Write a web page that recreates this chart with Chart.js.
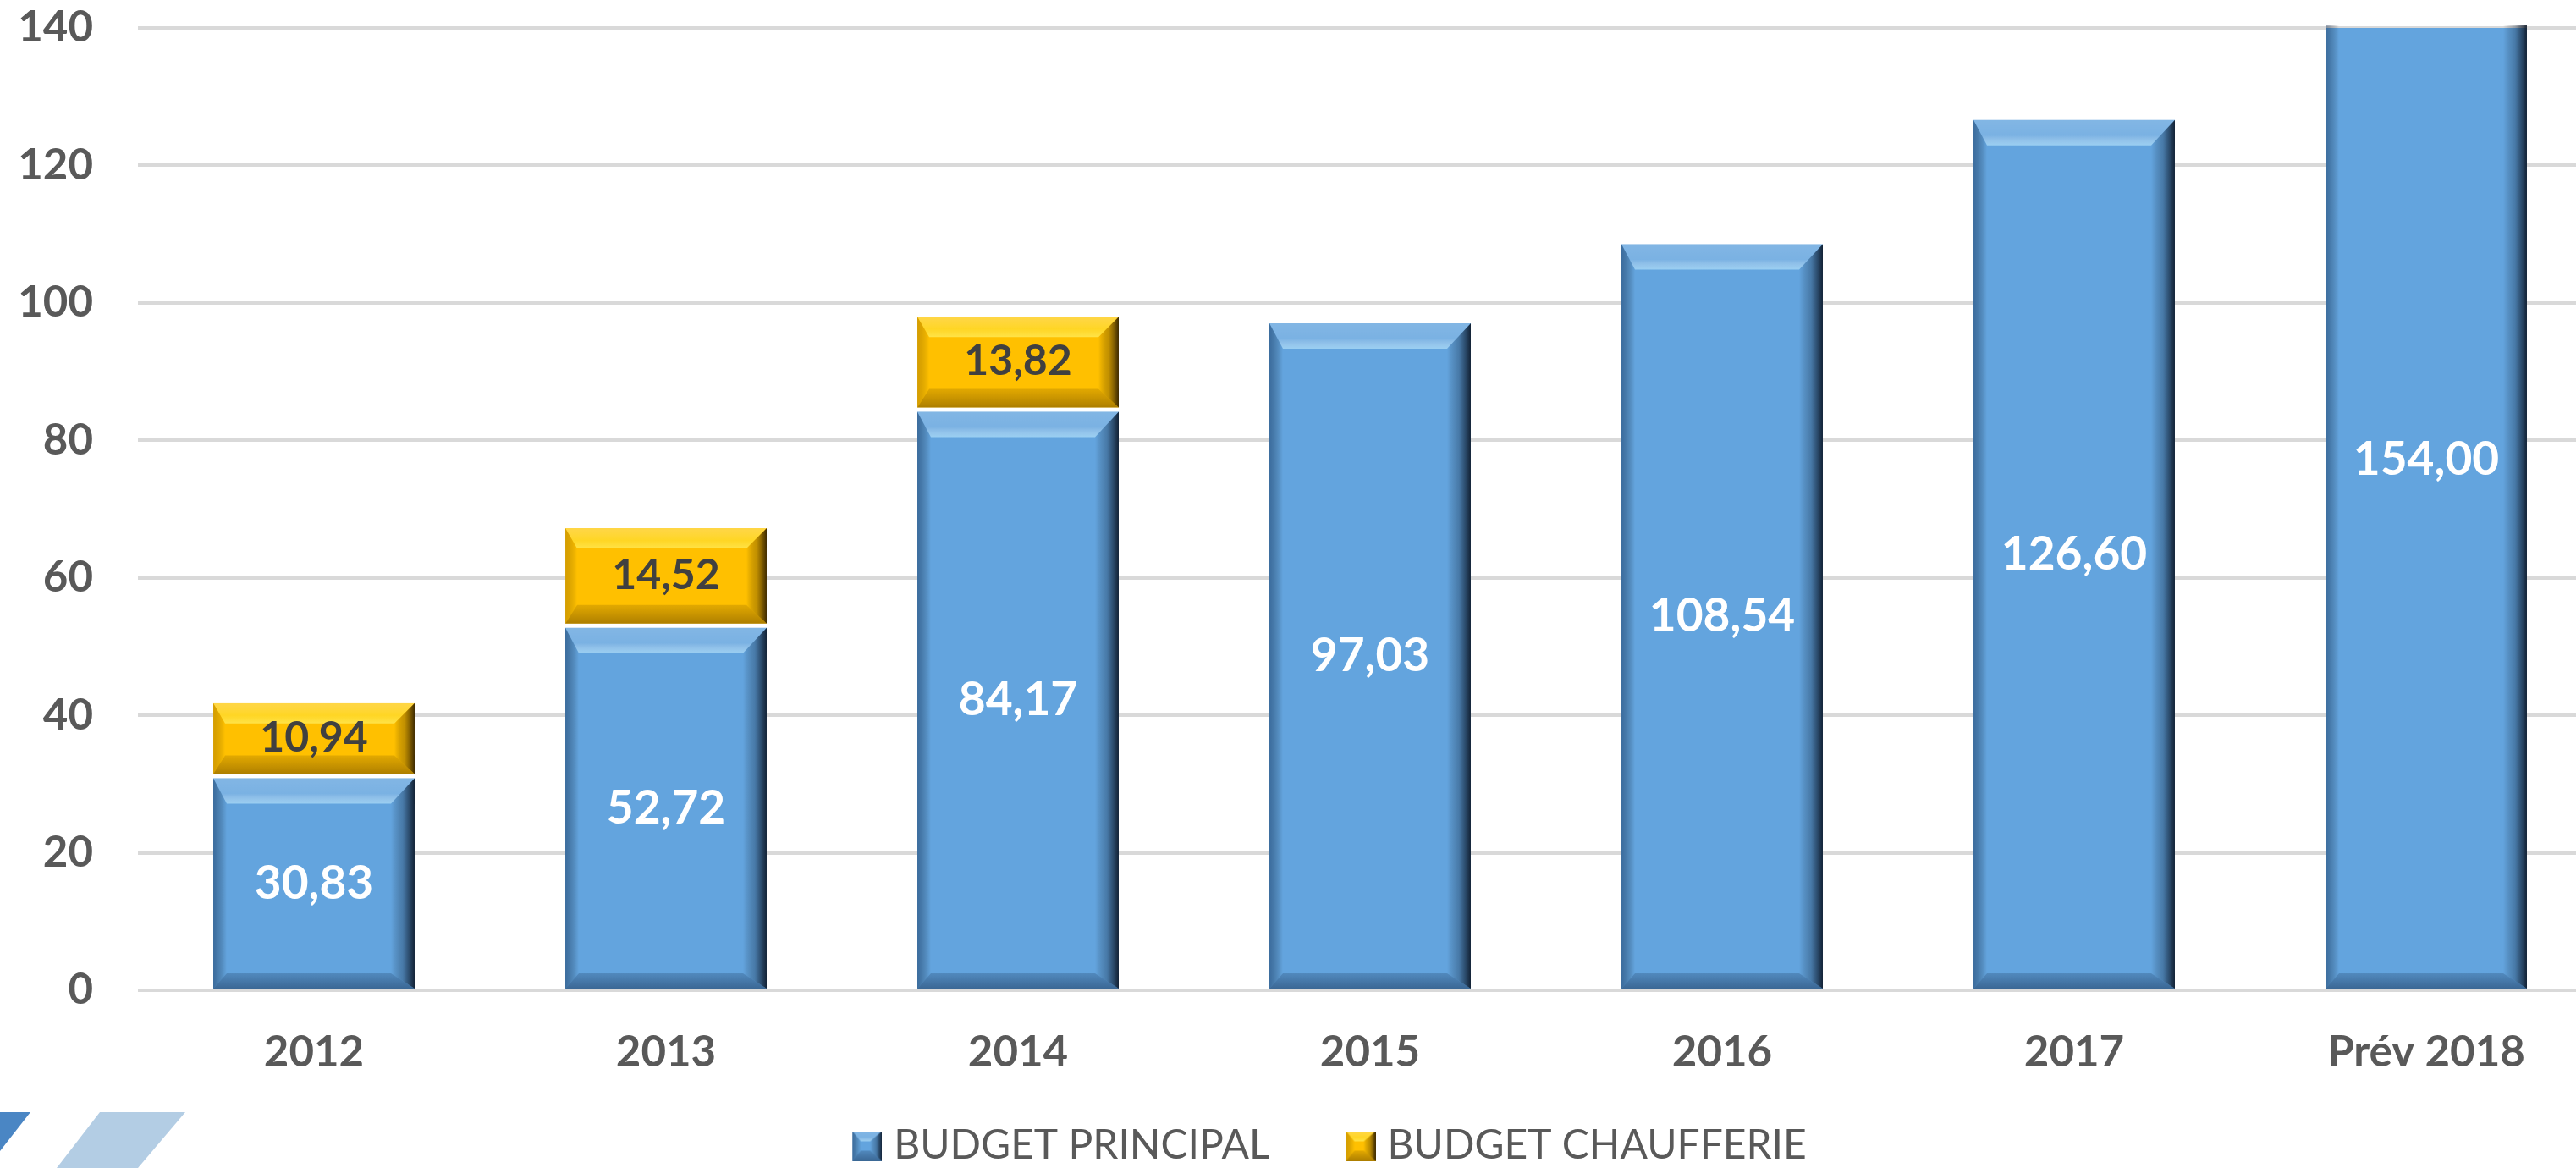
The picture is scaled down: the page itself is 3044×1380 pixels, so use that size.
<!DOCTYPE html>
<html>
<head>
<meta charset="utf-8">
<script src="https://cdn.jsdelivr.net/npm/chart.js@4.4.1/dist/chart.umd.min.js"></script>
<style>
  html, body { margin: 0; padding: 0; background: #fff; overflow: hidden; }
  #wrap { position: relative; width: 3075px; height: 1380px; }
  .deco { position: absolute; top: 1314px; height: 66px; }
  #deco1 { left: 0; width: 60px; background: #4a86c4; clip-path: polygon(0 0, 36px 0, 0 46px); }
  #deco2 { left: 60px; width: 170px; background: #b3cde4; clip-path: polygon(58px 0, 159px 0, 103px 66px, 7px 66px); }
</style>
</head>
<body>
<div id="wrap">
  <canvas id="chart-budget"></canvas>
  <div class="deco" id="deco1"></div>
  <div class="deco" id="deco2"></div>
</div>
<script>
// data
var categories = ["2012", "2013", "2014", "2015", "2016", "2017", "Prév 2018"];
var budgetPrincipal = [30.83, 52.72, 84.17, 97.03, 108.54, 126.60, 154.00];
var budgetChaufferie = [10.94, 14.52, 13.82, null, null, null, null];
var yTicks = [0, 20, 40, 60, 80, 100, 120, 140];

var blue = "#63a4de";
var gold = "#ffc000";
var fontFamily = "Lato, 'Open Sans', sans-serif";

// bevel look (like the excel 3d effect), sz = [top, right, bottom, left]
function drawBevel(ctx, l, t, r, b, sz, shade) {
  var st = sz[0], sr = sz[1], sb = sz[2], sl = sz[3];
  function poly(pts, grad) {
    ctx.beginPath();
    ctx.moveTo(pts[0][0], pts[0][1]);
    for (var i = 1; i < pts.length; i++) ctx.lineTo(pts[i][0], pts[i][1]);
    ctx.closePath();
    ctx.fillStyle = grad;
    ctx.fill();
  }
  var g;
  // top
  g = ctx.createLinearGradient(0, t, 0, t + st);
  g.addColorStop(0, shade.top[0]);
  g.addColorStop(0.6, shade.top[1]);
  g.addColorStop(1, shade.top[2]);
  poly([[l, t], [r, t], [r - sr, t + st], [l + sl, t + st]], g);
  // left
  g = ctx.createLinearGradient(l, 0, l + sl, 0);
  g.addColorStop(0, shade.left);
  g.addColorStop(1, "rgba(0,0,0,0)");
  poly([[l, t], [l + sl, t + st], [l + sl, b - sb], [l, b]], g);
  // bottom
  g = ctx.createLinearGradient(0, b - sb, 0, b);
  g.addColorStop(0, shade.bottom[0]);
  g.addColorStop(1, shade.bottom[1]);
  poly([[l, b], [r, b], [r - sr, b - sb], [l + sl, b - sb]], g);
  // right
  g = ctx.createLinearGradient(r - sr, 0, r, 0);
  g.addColorStop(0, "rgba(0,0,0,0)");
  g.addColorStop(0.5, shade.right[0]);
  g.addColorStop(1, shade.right[1]);
  poly([[r, t], [r, b], [r - sr, b - sb], [r - sr, t + st]], g);
}

var shades = [{
  top: ["rgba(255,255,255,0.2)", "rgba(255,255,255,0.15)", "rgba(190,235,255,0.6)"],
  left: "rgba(10,40,80,0.45)",
  bottom: ["rgba(10,30,60,0.2)", "rgba(10,30,60,0.45)"],
  right: ["rgba(10,25,45,0.3)", "rgba(10,20,35,0.9)"]
}, {
  top: ["rgba(255,255,200,0.35)", "rgba(255,240,80,0.45)", "rgba(255,250,120,0.6)"],
  left: "rgba(120,80,0,0.3)",
  bottom: ["rgba(110,75,0,0.2)", "rgba(90,60,0,0.5)"],
  right: ["rgba(80,55,0,0.35)", "rgba(40,25,0,0.9)"]
}];
var bevelSizes = [[30, 28, 18, 16], [24, 24, 22, 14]];

// legend markers: canvas with transparent room on the left, marker on the right
function makeMarker(color, shade) {
  var c = document.createElement("canvas");
  c.width = 70; c.height = 35;
  var cx = c.getContext("2d");
  cx.fillStyle = color;
  cx.fillRect(35, 0, 35, 35);
  drawBevel(cx, 35, 0, 70, 35, [12, 14, 12, 10], shade);
  return c;
}
var markers = [makeMarker(blue, shades[0]), makeMarker(gold, shades[1])];

// nudge the legend a bit to the right, like the original
var legendShift = {
  id: "legendShift",
  afterLayout: function(chart) {
    if (chart.legend) chart.legend.left += 42;
  }
};

var bevelPlugin = {
  id: "bevel",
  afterDatasetsDraw: function(chart) {
    var ctx = chart.ctx, area = chart.chartArea;
    ctx.save();
    ctx.beginPath();
    ctx.rect(area.left, area.top - 3, area.right - area.left, area.bottom - area.top + 3);
    ctx.clip();
    chart.data.datasets.forEach(function(ds, di) {
      var meta = chart.getDatasetMeta(di);
      meta.data.forEach(function(bar, i) {
        if (ds.data[i] == null) return;
        var p = bar.getProps(["x", "y", "base", "width"], true);
        var l = p.x - p.width / 2, r = p.x + p.width / 2;
        var t = Math.min(p.y, p.base), b = Math.max(p.y, p.base);
        if (di === 1) b -= 5;
        drawBevel(ctx, l, t, r, b, bevelSizes[di], shades[di]);
      });
    });
    ctx.restore();

    // value labels
    ctx.save();
    ctx.textAlign = "center";
    ctx.textBaseline = "middle";
    chart.data.datasets.forEach(function(ds, di) {
      var meta = chart.getDatasetMeta(di);
      meta.data.forEach(function(bar, i) {
        var v = ds.data[i];
        if (v == null) return;
        var p = bar.getProps(["x", "y", "base"], true);
        ctx.font = (di === 0 ? "bold 55px " : "bold 50px ") + fontFamily;
        ctx.fillStyle = di === 0 ? "#ffffff" : "#404040";
        ctx.fillText(v.toFixed(2).replace(".", ","), p.x, (p.y + p.base) / 2 + (di === 1 ? -3 : 0));
      });
    });
    ctx.restore();
  }
};

var ctx = document.getElementById("chart-budget").getContext("2d");

new Chart(ctx, {
  type: "bar",
  data: {
    labels: categories,
    datasets: [{
      label: "BUDGET PRINCIPAL",
      data: budgetPrincipal,
      backgroundColor: blue,
      borderWidth: 0,
      barPercentage: 0.572,
      categoryPercentage: 1
    }, {
      label: "BUDGET CHAUFFERIE",
      data: budgetChaufferie,
      backgroundColor: gold,
      borderColor: "#ffffff",
      borderWidth: { bottom: 5, top: 0, left: 0, right: 0 },
      borderSkipped: false,
      barPercentage: 0.572,
      categoryPercentage: 1
    }]
  },
  options: {
    responsive: true,
    maintainAspectRatio: false,
    animation: false,
    layout: {
      padding: { top: 33, left: 0, right: 0, bottom: -8 }
    },
    plugins: {
      legend: {
        position: "bottom",
        labels: {
          usePointStyle: true,
          pointStyleWidth: 50,
          padding: 65,
          color: "#595959",
          font: { size: 48, family: fontFamily },
          generateLabels: function(chart) {
            var items = Chart.defaults.plugins.legend.labels.generateLabels(chart);
            items.forEach(function(it, i) { it.pointStyle = markers[i]; });
            return items;
          }
        }
      },
      tooltip: { enabled: false }
    },
    scales: {
      x: {
        stacked: true,
        grid: { display: false, drawTicks: false },
        border: { display: false },
        ticks: {
          padding: 43,
          color: "#595959",
          font: { size: 51, weight: "bold", family: fontFamily }
        },
        afterFit: function(scale) { scale.height = 95; }
      },
      y: {
        stacked: true,
        min: yTicks[0],
        max: yTicks[yTicks.length - 1],
        afterBuildTicks: function(scale) {
          scale.ticks = yTicks.map(function(v) { return { value: v }; });
        },
        grid: { color: "#d9d9d9", lineWidth: 4, drawTicks: false },
        border: { display: false },
        ticks: {
          padding: 53,
          color: "#595959",
          font: { size: 51, weight: "bold", family: fontFamily }
        },
        afterFit: function(scale) {
          scale.width = 163;
          scale.paddingTop = 0;
          scale.paddingBottom = 0;
        }
      }
    }
  },
  plugins: [legendShift, bevelPlugin]
});
</script>
</body>
</html>
